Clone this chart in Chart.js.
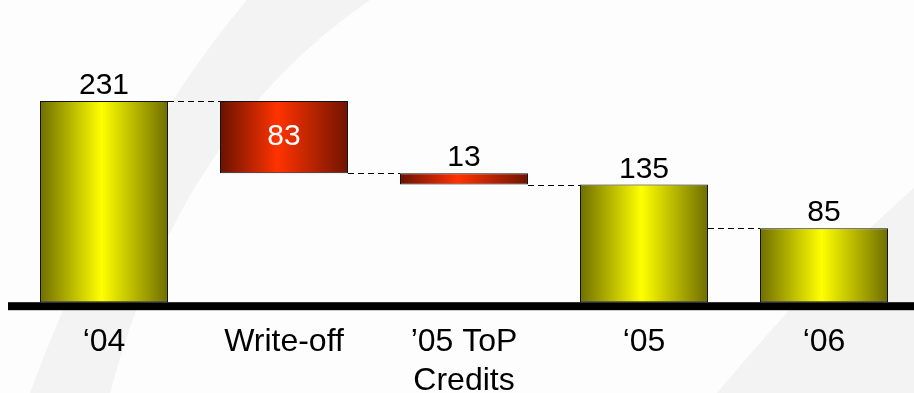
<!DOCTYPE html>
<html>
<head>
<meta charset="utf-8">
<script src="https://cdn.jsdelivr.net/npm/chart.js@4"></script>
<style>
  html, body { margin: 0; padding: 0; background: #fdfdfd; }
  #wrap { width: 914px; height: 393px; }
</style>
</head>
<body>
<div id="wrap"><canvas id="waterfall" width="914" height="393"></canvas></div>
<script>
// categories and amounts
const categories = ['\u201804', 'Write-off', ['\u201905 ToP', 'Credits'], '\u201805', '\u201806'];
const amounts = [231, 83, 13, 135, 85];
const kinds = ['total', 'down', 'down', 'total', 'total'];

// floating ranges for the waterfall
let running = 0;
const ranges = amounts.map((v, i) => {
  if (kinds[i] === 'total') { running = v; return [0, v]; }
  const top = running;
  running = running - v;
  return [running, top];
});

const font = "'Liberation Sans', Arial, sans-serif";

function barGradient(ctx, kind) {
  const chart = ctx.chart;
  const xs = chart.scales && chart.scales.x;
  if (!chart.chartArea || !xs) return kind === 'down' ? '#e02800' : '#e0e000';
  const c = xs.getPixelForValue(ctx.dataIndex);
  const w = (xs.width / categories.length) * 0.711;
  const g = chart.ctx.createLinearGradient(c - w / 2, 0, c + w / 2, 0);
  if (kind === 'down') {
    g.addColorStop(0, '#6a1200');
    g.addColorStop(0.45, '#ff3300');
    g.addColorStop(1, '#701400');
  } else {
    g.addColorStop(0, '#6e6e00');
    g.addColorStop(0.48, '#ffff00');
    g.addColorStop(1, '#6e6e00');
  }
  return g;
}

const decor = {
  id: 'decor',
  beforeDraw(chart) {
    const { ctx, width, height } = chart;
    ctx.save();
    ctx.fillStyle = '#fdfdfd';
    ctx.fillRect(0, 0, width, height);
    ctx.fillStyle = '#f3f3f3';
    ctx.beginPath();
    ctx.moveTo(247, 0);
    ctx.quadraticCurveTo(120, 150, 30, height);
    ctx.lineTo(110, height);
    ctx.quadraticCurveTo(180, 130, 370, 0);
    ctx.closePath();
    ctx.fill();
    ctx.beginPath();
    ctx.moveTo(717, height);
    ctx.quadraticCurveTo(820, 270, width, 188);
    ctx.lineTo(width, height);
    ctx.closePath();
    ctx.fill();
    ctx.restore();
  },
  afterDatasetsDraw(chart) {
    const { ctx, chartArea, scales } = chart;
    const bars = chart.getDatasetMeta(0).data;
    ctx.save();
    // connectors
    ctx.strokeStyle = '#000';
    ctx.lineWidth = 1;
    ctx.setLineDash([6, 4]);
    for (let i = 0; i < bars.length - 1; i++) {
      const y = Math.round(scales.y.getPixelForValue(ranges[i + 1][1])) + 0.5;
      ctx.beginPath();
      ctx.moveTo(bars[i].x + bars[i].width / 2, y);
      ctx.lineTo(bars[i + 1].x - bars[i + 1].width / 2, y);
      ctx.stroke();
    }
    ctx.setLineDash([]);
    // thick base line
    ctx.fillStyle = '#000';
    ctx.fillRect(chartArea.left - 6, chartArea.bottom, chart.width - chartArea.left + 6, 8);
    // value labels
    ctx.font = '30px ' + font;
    ctx.textAlign = 'center';
    bars.forEach((b, i) => {
      const top = scales.y.getPixelForValue(ranges[i][1]);
      const bottom = scales.y.getPixelForValue(ranges[i][0]);
      if (kinds[i] === 'down' && bottom - top > 40) {
        ctx.fillStyle = '#ffffff';
        ctx.textBaseline = 'middle';
        ctx.fillText(String(amounts[i]), b.x, (top + bottom) / 2);
      } else {
        ctx.fillStyle = '#000';
        ctx.textBaseline = 'alphabetic';
        ctx.fillText(String(amounts[i]), b.x, top - 7);
      }
    });
    ctx.restore();
  }
};

new Chart(document.getElementById('waterfall'), {
  type: 'bar',
  data: {
    labels: categories,
    datasets: [{
      data: ranges,
      backgroundColor: ctx => barGradient(ctx, kinds[ctx.dataIndex]),
      borderColor: '#111',
      borderWidth: 1,
      borderSkipped: false,
      barPercentage: 0.711,
      categoryPercentage: 1
    }]
  },
  options: {
    responsive: false,
    animation: false,
    layout: { padding: { left: 14, right: 0, top: 6, bottom: -28 } },
    plugins: {
      legend: { display: false },
      tooltip: { enabled: false },
      title: { display: false }
    },
    scales: {
      x: {
        grid: { display: false, drawTicks: false },
        border: { display: false },
        ticks: {
          color: '#000',
          padding: 21,
          maxRotation: 0,
          autoSkip: false,
          font: { family: font, size: 32, lineHeight: 1.2 }
        }
      },
      y: {
        display: false,
        min: 0,
        max: 340
      }
    }
  },
  plugins: [decor]
});
</script>
</body>
</html>
